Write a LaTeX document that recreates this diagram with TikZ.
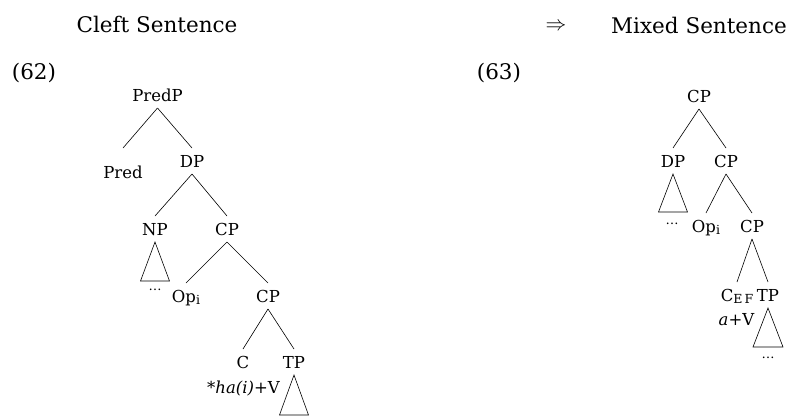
\documentclass[tikz,border=0pt]{standalone}
\usepackage{fontspec}
\setmainfont{DejaVu Serif}
\usepackage{tikz}
\usetikzlibrary{positioning}
\tikzstyle{branch} = [line width=0.6pt]
\tikzstyle{cat} = [anchor=base, inner xsep=1pt, inner ysep=0pt, text height=12pt, text depth=0pt, outer ysep=7pt, font=\fontsize{16.5}{18}\selectfont]
\tikzstyle{heading} = [anchor=base, inner sep=0pt, font=\fontsize{21.5}{24}\selectfont]
\tikzstyle{gloss} = [anchor=base, inner sep=0pt, font=\fontsize{16.5}{18}\selectfont]
\tikzstyle{dots} = [anchor=base, inner sep=0pt, font=\fontsize{13}{13}\selectfont]
\newcommand{\lowidx}[1]{\raisebox{-2.5pt}{\fontsize{12.5}{12.5}\selectfont #1}}
\begin{document}
\begin{tikzpicture}[x=1pt, y=-1pt]
\useasboundingbox (0,0) rectangle (790,418);

% Headings
\node (title_cleft) [heading] at (157,32) {Cleft Sentence};
\node (title_arrow) [heading] at (556,30) {$\Rightarrow$};
\node (title_mixed) [heading] at (699,33) {Mixed Sentence};
\node (ex62) [heading] at (34,79) {(62)};
\node (ex63) [heading] at (499,79) {(63)};

% Cleft tree
\node (predp) [cat] at (157.5,101) {PredP};
\node (pred) [cat] at (123,178) {Pred};
\node (dp_l) [cat] at (192,167) {DP};
\node (np) [cat] at (155,235) {NP};
\node (cp_a) [cat] at (227,235) {CP};
\node (op_l) [cat] at (186,302) {Op\lowidx{i}};
\node (cp_b) [cat] at (268,302) {CP};
\node (c_l) [cat] at (243,368) {C};
\node (tp_l) [cat] at (294,368) {TP};
\node (verb_l) [gloss] at (243.5,393) {*\textit{ha(i)}+V};
\node (np_dots) [dots] at (155,290) {\textellipsis};

\draw [branch] (predp.south) -- (pred.north |- dp_l.north);
\draw [branch] (predp.south) -- (dp_l.north);
\draw [branch] (dp_l.south) -- (np.north);
\draw [branch] (dp_l.south) -- (cp_a.north);
\draw [branch] (cp_a.south) -- (op_l.north);
\draw [branch] (cp_a.south) -- (cp_b.north);
\draw [branch] (cp_b.south) -- (c_l.north);
\draw [branch] (cp_b.south) -- (tp_l.north);
\draw [branch] (np.south) -- ++(-14.5,39) -- ++(29,0) -- cycle;
\draw [branch] (tp_l.south) -- ++(-14.5,40) -- ++(29,0) -- cycle;

% Mixed tree
\node (cp_r1) [cat] at (699,102) {CP};
\node (dp_r) [cat] at (673,167) {DP};
\node (cp_r2) [cat] at (726,167) {CP};
\node (op_r) [cat] at (706,232) {Op\lowidx{i}};
\node (cp_r3) [cat] at (752,232) {CP};
\node (c_ef) [cat] at (737,301) {C\lowidx{E\,F}};
\node (tp_r) [cat] at (768,301) {TP};
\node (verb_r) [gloss] at (736.5,325) {\textit{a}+V};
\node (dp_dots) [dots] at (672,224) {\textellipsis};
\node (tp_dots) [dots] at (768,358) {\textellipsis};

\draw [branch] (cp_r1.south) -- (dp_r.north);
\draw [branch] (cp_r1.south) -- (cp_r2.north);
\draw [branch] (cp_r2.south) -- (op_r.north);
\draw [branch] (cp_r2.south) -- (cp_r3.north);
\draw [branch] (cp_r3.south) -- (c_ef.north);
\draw [branch] (cp_r3.south) -- (tp_r.north);
\draw [branch] (dp_r.south) -- ++(-14.5,38) -- ++(29,0) -- cycle;
\draw [branch] (tp_r.south) -- ++(-15,39) -- ++(30,0) -- cycle;

\end{tikzpicture}
\end{document}
